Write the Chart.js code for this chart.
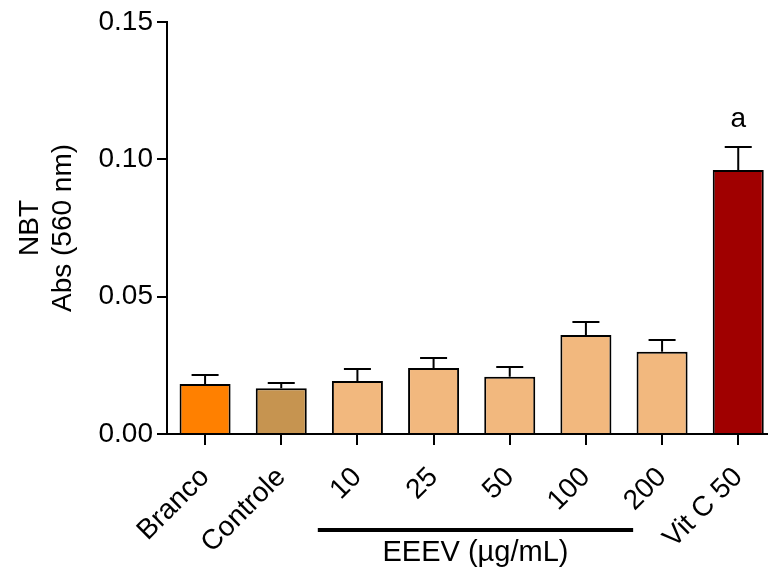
<!DOCTYPE html>
<html>
<head>
<meta charset="utf-8">
<script src="https://cdn.jsdelivr.net/npm/chart.js@4/dist/chart.umd.min.js"></script>
<style>
  html, body { margin: 0; padding: 0; background: #fff; overflow: hidden; }
  #wrap { width: 778px; height: 572px; }
</style>
</head>
<body>
<div id="wrap"><canvas id="nbtChart" width="778" height="572"></canvas></div>
<script>
const categorias = ["Branco", "Controle", "10", "25", "50", "100", "200", "Vit C 50"];
const medias = [0.0182, 0.0167, 0.0193, 0.0240, 0.0208, 0.0360, 0.0299, 0.0961];
const erros = [0.0033, 0.0019, 0.0044, 0.0037, 0.0036, 0.0048, 0.0043, 0.0084];
const letras = ["", "", "", "", "", "", "", "a"];
const cores = ["#ff8000", "#c69450", "#f2b87e", "#f2b87e", "#f2b87e", "#f2b87e", "#f2b87e", "#a00000"];
const yTicks = [0, 0.05, 0.1, 0.15];
const grupoLabel = "EEEV (\u00b5g/mL)";

const fonte = "'Liberation Sans', Arial, sans-serif";

// barras de erro, letra de significancia e chave do grupo EEEV
const extrasPlugin = {
  id: "extras",
  afterDatasetsDraw(chart) {
    const ctx = chart.ctx;
    const x = chart.scales.x;
    const y = chart.scales.y;
    const meta = chart.getDatasetMeta(0);
    ctx.save();
    ctx.strokeStyle = "#000";
    ctx.lineWidth = 2;
    meta.data.forEach((bar, i) => {
      const topo = y.getPixelForValue(medias[i] + erros[i]);
      ctx.beginPath();
      ctx.moveTo(bar.x, bar.y);
      ctx.lineTo(bar.x, topo);
      ctx.moveTo(bar.x - 13.5, topo);
      ctx.lineTo(bar.x + 13.5, topo);
      ctx.stroke();
      if (letras[i]) {
        ctx.fillStyle = "#000";
        ctx.font = "28px " + fonte;
        ctx.textAlign = "center";
        ctx.textBaseline = "alphabetic";
        ctx.fillText(letras[i], bar.x, topo - 20);
      }
    });

    const passo = x.getPixelForValue(1) - x.getPixelForValue(0);
    const x1 = x.getPixelForValue(2) - 0.52 * passo;
    const x2 = x.getPixelForValue(6) - 0.38 * passo;
    const yLinha = y.bottom + 96;
    ctx.lineWidth = 4;
    ctx.beginPath();
    ctx.moveTo(x1, yLinha);
    ctx.lineTo(x2, yLinha);
    ctx.stroke();
    ctx.fillStyle = "#000";
    ctx.font = "29px " + fonte;
    ctx.textAlign = "center";
    ctx.textBaseline = "middle";
    ctx.fillText(grupoLabel, (x1 + x2) / 2, yLinha + 23);
    ctx.restore();
  },
};

const ctx = document.getElementById("nbtChart").getContext("2d");
new Chart(ctx, {
  type: "bar",
  data: {
    labels: categorias,
    datasets: [
      {
        data: medias,
        backgroundColor: cores,
        borderColor: "#000",
        borderWidth: 2,
        barPercentage: 0.67,
        categoryPercentage: 1,
      },
    ],
  },
  options: {
    responsive: false,
    animation: false,
    devicePixelRatio: 1,
    layout: { padding: { top: 22, right: 0, left: 0, bottom: 0 } },
    plugins: {
      legend: { display: false },
      tooltip: { enabled: false },
    },
    scales: {
      x: {
        offset: true,
        grid: {
          offset: false,
          drawOnChartArea: false,
          drawTicks: true,
          tickLength: 11,
          color: "#000",
          lineWidth: 2,
        },
        border: { display: true, color: "#000", width: 2 },
        ticks: {
          color: "#000",
          font: { family: fonte, size: 28 },
          minRotation: 45,
          maxRotation: 45,
          autoSkip: false,
          padding: 16,
        },
        afterFit(scale) {
          scale.height = 138;
        },
      },
      y: {
        min: 0,
        max: 0.15,
        afterBuildTicks(scale) {
          scale.ticks = yTicks.map((v) => ({ value: v }));
        },
        grid: {
          drawOnChartArea: false,
          drawTicks: true,
          tickLength: 10,
          color: "#000",
          lineWidth: 2,
        },
        border: { display: true, color: "#000", width: 2 },
        ticks: {
          color: "#000",
          font: { family: fonte, size: 28 },
          padding: 4,
          callback: (v) => Number(v).toFixed(2),
        },
        title: {
          display: true,
          text: ["NBT", "Abs (560 nm)"],
          color: "#000",
          font: { family: fonte, size: 28, lineHeight: 1.18 },
          padding: { top: 14, bottom: 0 },
        },
        afterFit(scale) {
          scale.width = 167;
        },
      },
    },
  },
  plugins: [extrasPlugin],
});
</script>
</body>
</html>
